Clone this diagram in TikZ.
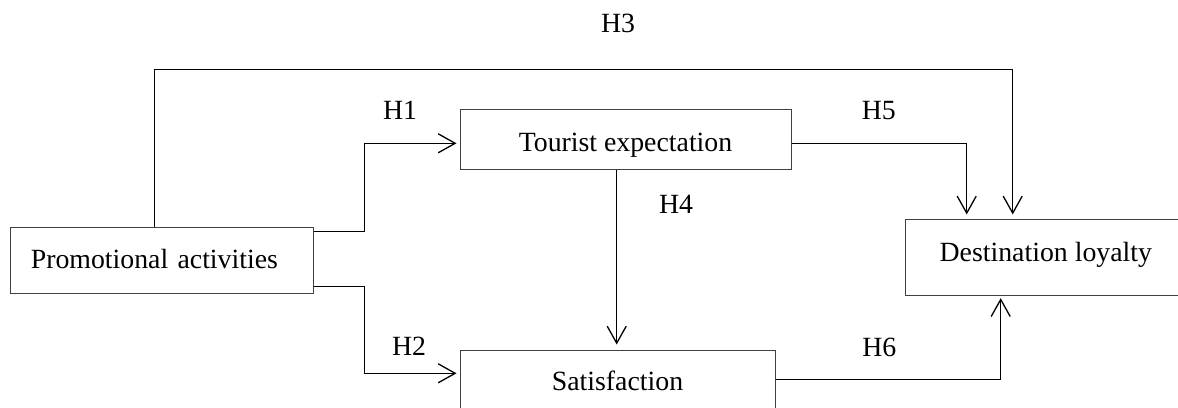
\documentclass[tikz,border=0pt]{standalone}
\usepackage{fontspec}
\setmainfont{Liberation Serif}
\usetikzlibrary{arrows.meta}
\definecolor{boxline}{RGB}{64,64,64}
\begin{document}
\begin{tikzpicture}[x=1pt,y=-1pt,
  font=\fontsize{27.8}{33}\selectfont,
  box/.style={draw=boxline, line width=1pt, rectangle, inner sep=0pt},
  conn/.style={draw=black, line width=1.3pt, -{Straight Barb[length=17pt,width=19pt]}},
  hlab/.style={anchor=base, inner sep=0pt}]
\useasboundingbox (0,0) rectangle (1178,407);
\clip (0,0) rectangle (1178,407);
% boxes
\node[box, minimum height=66pt, text height=20.6pt, text depth=6pt,
      text width=262.3pt, align=left, inner xsep=20pt] (promo) at (162,260.7) {Promotional activities};
\node[box, minimum width=331pt, minimum height=60pt, text height=30.4pt, text depth=6pt] (tourist) at (625.5,139.5) {Tourist expectation};
\node[box, minimum width=315pt, minimum height=60pt, text height=26pt, text depth=6pt] (sat) at (617.5,380) {Satisfaction};
\node[box, minimum width=281.6pt, minimum height=75.7pt, text height=12.4pt, text depth=6pt] (dest) at (1045.8,257.8) {Destination loyalty};
% bend points
\coordinate (h3top) at (154.5,69.5);
\coordinate (h3right) at (1012.7,69.5);
\coordinate (h1m) at (364.5,143.3);
\coordinate (h2m) at (364.5,373.3);
\coordinate (h4x) at (616.7,0);
\coordinate (h5x) at (966.7,143.3);
\coordinate (h6x) at (1000.7,379.3);
% connectors
\draw[conn, shorten >=5pt] (promo.north -| h3top) -- (h3top) -- (h3right) -- (h3right |- dest.north);
\draw[conn, shorten >=3pt] ([yshift=-4pt]promo.north east) -| (h1m) -- (h1m -| tourist.west);
\draw[conn, shorten >=3pt] ([yshift=8pt]promo.south east) -| (h2m) -- (h2m -| sat.west);
\draw[conn, shorten >=5pt] (h4x |- tourist.south) -- (h4x |- sat.north);
\draw[conn, shorten >=5pt] (h5x -| tourist.east) -- (h5x) -- (h5x |- dest.north);
\draw[conn, shorten >=2pt] (h6x -| sat.east) -- (h6x) -- (h6x |- dest.south);
% labels
\node[hlab] (l3) at (618,32.3) {H3};
\node[hlab] (l1) at (400,119.3) {H1};
\node[hlab] (l2) at (409,355) {H2};
\node[hlab] (l4) at (676,213) {H4};
\node[hlab] (l5) at (878.8,119.3) {H5};
\node[hlab] (l6) at (879.3,356.7) {H6};
\end{tikzpicture}
\end{document}
